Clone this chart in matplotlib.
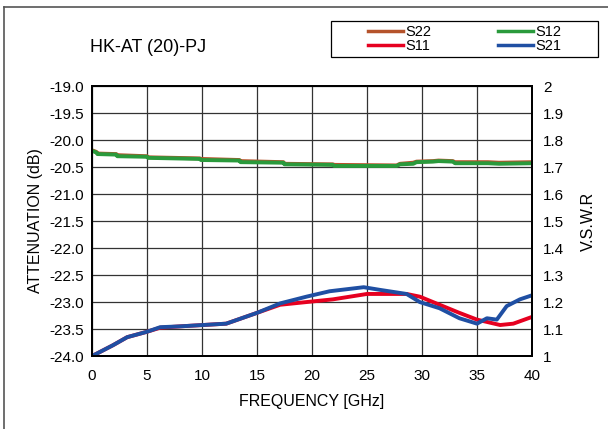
import matplotlib.pyplot as plt
from matplotlib.lines import Line2D
from matplotlib.patches import Rectangle
import numpy as np

plt.rcParams['font.family'] = ['Liberation Sans', 'DejaVu Sans']

# attenuation traces (dB, left axis)
f_att = [0, 0.4, 0.5, 2.2, 2.3, 5.0, 5.1, 9.8, 9.9, 13.4, 13.5, 17.4, 17.5, 21.9, 22.0,
         27.7, 28.0, 29.2, 29.5, 31.0, 31.5, 32.8, 33.0, 36.0, 37.0, 40]
s12 = [-20.20, -20.23, -20.26, -20.27, -20.30, -20.31, -20.33, -20.35, -20.37, -20.38,
       -20.41, -20.42, -20.45, -20.46, -20.48, -20.48, -20.45, -20.44, -20.41, -20.40,
       -20.39, -20.40, -20.43, -20.43, -20.44, -20.43]
s22 = [-20.19, -20.22, -20.25, -20.26, -20.28, -20.30, -20.32, -20.34, -20.35, -20.37,
       -20.39, -20.41, -20.44, -20.45, -20.46, -20.47, -20.44, -20.42, -20.40, -20.39,
       -20.38, -20.39, -20.41, -20.41, -20.42, -20.41]

# VSWR traces (right axis)
f_s21 = [0, 1.9, 3.2, 5.0, 6.2, 8.0, 12.2, 15.0, 17.1, 19.5, 21.6, 24.7, 26.2, 28.6,
         29.8, 31.6, 33.4, 35.0, 35.9, 36.8, 37.7, 38.9, 40]
s21 = [1.00, 1.04, 1.07, 1.09, 1.107, 1.11, 1.12, 1.16, 1.195, 1.22, 1.24, 1.255, 1.245,
       1.23, 1.20, 1.177, 1.14, 1.12, 1.14, 1.135, 1.185, 1.21, 1.225]
f_s11 = [0, 1.9, 3.2, 5.0, 6.2, 8.0, 12.2, 15.0, 17.1, 19.5, 21.9, 25.0, 28.6, 29.8,
         31.6, 33.4, 35.0, 37.1, 38.3, 40]
s11 = [1.00, 1.04, 1.07, 1.09, 1.105, 1.11, 1.12, 1.16, 1.19, 1.20, 1.21, 1.23, 1.23,
       1.22, 1.19, 1.16, 1.135, 1.115, 1.12, 1.145]

c_s22 = '#b5532b'
c_s12 = '#2a9a3c'
c_s11 = '#e60020'
c_s21 = '#1f4fa3'

fig = plt.figure(figsize=(6.08, 4.29), dpi=100)
ax = fig.add_axes([0.1513, 0.170, 0.7237, 0.6295])
ax2 = ax.twinx()

ax.plot(f_att, s22, color=c_s22, lw=2.8)
ax.plot(f_att, s12, color=c_s12, lw=2.8)
ax2.plot(f_s11, s11, color=c_s11, lw=2.8)
ax2.plot(f_s21, s21, color=c_s21, lw=2.8)

ax.set_xlim(0, 40)
ax.set_ylim(-24.0, -19.0)
ax2.set_ylim(1, 2)
ax.set_xticks(np.arange(0, 41, 5))
ax.set_yticks(np.arange(-24.0, -18.9, 0.5))
ax.set_yticklabels(['%.1f' % v for v in np.arange(-24.0, -18.9, 0.5)])
ax2.set_yticks(np.arange(1, 2.01, 0.1))
ax2.set_yticklabels(['1'] + ['%.1f' % v for v in np.arange(1.1, 1.95, 0.1)] + ['2'])
ax.grid(True, color='#333333', lw=0.9)
ax.tick_params(axis='y', length=0, labelsize=11, pad=6)
ax.tick_params(axis='x', length=0, labelsize=11, pad=9)
ax2.tick_params(length=0, labelsize=11, pad=8)
for a in (ax, ax2):
    for s in a.spines.values():
        s.set_linewidth(1.4)
        s.set_color('black')

ax.set_xlabel('FREQUENCY [GHz]', fontsize=11.5, labelpad=8)
ax.set_ylabel('ATTENUATION (dB)', fontsize=11.5, labelpad=4)
ax2.set_ylabel('V.S.W.R', fontsize=11.5, labelpad=12)

fig.text(0.148, 0.89, 'HK-AT (20)-PJ', fontsize=13, va='center', ha='left')

# outer frame (top and left only)
fig.add_artist(Line2D([0.006, 1], [0.983, 0.983], color='#555555', lw=1.2))
fig.add_artist(Line2D([0.006, 0.006], [0, 0.983], color='#555555', lw=1.2))

# legend box
fig.add_artist(Rectangle((0.544, 0.867), 0.44, 0.084, transform=fig.transFigure,
                         fill=False, edgecolor='black', lw=0.9))
handles = [Line2D([], [], color=c_s22, lw=2.5), Line2D([], [], color=c_s11, lw=2.5),
           Line2D([], [], color=c_s12, lw=2.5), Line2D([], [], color=c_s21, lw=2.5)]
leg = fig.legend(handles, ['S22', 'S11', 'S12', 'S21'], ncol=2,
                 bbox_to_anchor=(0.544, 0.867, 0.44, 0.084), loc='center',
                 frameon=False, fontsize=10.5, handlelength=2.4, handletextpad=0.15,
                 labelspacing=0.0, borderpad=0.0, columnspacing=4.6)

fig.savefig('out.png', dpi=100)
